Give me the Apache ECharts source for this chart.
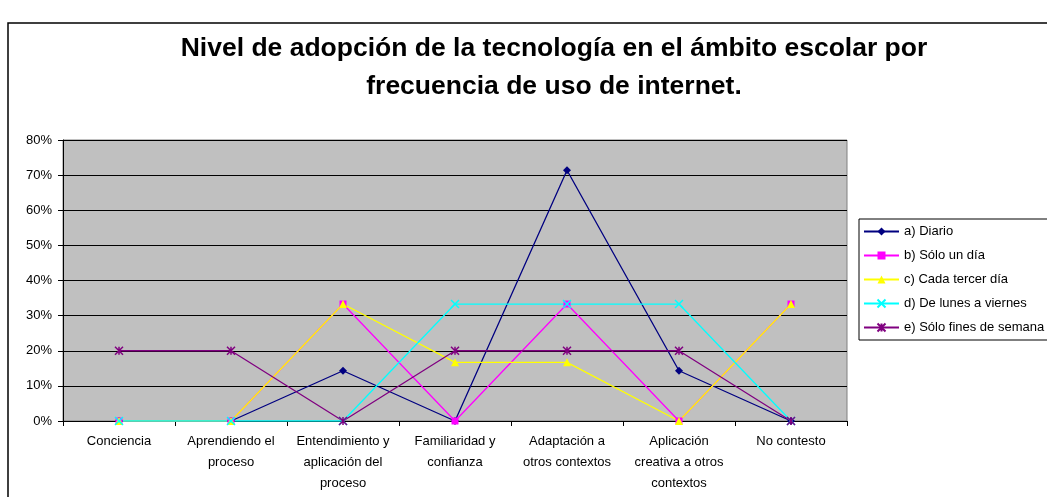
<!DOCTYPE html>
<html>
<head>
<meta charset="utf-8">
<script src="https://cdn.jsdelivr.net/npm/echarts@6/dist/echarts.min.js"></script>
<style>
  html, body { margin: 0; padding: 0; background: #fff; }
  #chart { width: 1047px; height: 497px; }
</style>
</head>
<body>
<div id="chart"></div>
<script>
// categorías del eje X
var categorias = ['Conciencia', 'Aprendiendo el\nproceso', 'Entendimiento y\naplicación del\nproceso',
    'Familiaridad y\nconfianza', 'Adaptación a\notros contextos', 'Aplicación\ncreativa a otros\ncontextos', 'No contesto'];

// valores (fracción) de cada serie
var diario = [0, 0, 0.143, 0, 0.714, 0.143, 0];
var soloUnDia = [0, 0, 0.333, 0, 0.333, 0, 0.333];
var cadaTercerDia = [0, 0, 0.333, 0.167, 0.167, 0, 0.333];
var lunesViernes = [0, 0, 0, 0.333, 0.333, 0.333, 0];
var finesSemana = [0.2, 0.2, 0, 0.2, 0.2, 0.2, 0];

var nombres = ['a) Diario', 'b) Sólo un día', 'c) Cada tercer día', 'd) De lunes a viernes', 'e) Sólo fines de semana'];

var mychart = echarts.init(document.getElementById('chart'));

var cruz = 'path://M0,0 L10,10 M10,0 L0,10';
var asterisco = 'path://M0,0 L10,10 M10,0 L0,10 M5,0 L5,10';

function serie(nombre, datos, color, simbolo, tam, hueco) {
    return {
        name: nombre,
        type: 'line',
        data: datos,
        symbol: simbolo,
        symbolSize: tam,
        showAllSymbol: true,
        color: color,
        lineStyle: { color: color, width: 1.3 },
        itemStyle: hueco
            ? { color: 'rgba(0,0,0,0)', borderColor: color, borderWidth: 1.5 }
            : { color: color, borderColor: color, borderWidth: 0 },
        emphasis: { disabled: true },
        animation: false
    };
}

var option = {
    textStyle: { fontFamily: 'Arial, "Liberation Sans", sans-serif' },
    graphic: [{
        type: 'rect',
        shape: { x: 8, y: 23, width: 1060, height: 490 },
        style: { fill: 'none', stroke: '#000', lineWidth: 1.5 },
        z: -10
    }],
    title: {
        text: 'Nivel de adopción de la tecnología en el ámbito escolar por\nfrecuencia de uso de internet.',
        left: 549,
        top: 25,
        textAlign: 'center',
        textStyle: { fontSize: 26.5, fontWeight: 'bold', color: '#000', lineHeight: 38 }
    },
    legend: {
        data: nombres,
        orient: 'vertical',
        left: 859,
        top: 219,
        padding: [6, 40, 6, 4],
        itemGap: 11,
        itemWidth: 35,
        itemHeight: 10,
        backgroundColor: '#fff',
        borderColor: '#000',
        borderWidth: 1,
        textStyle: { fontSize: 13, color: '#000' }
    },
    grid: {
        left: 63, right: 200, top: 140, bottom: 76,
        show: true,
        backgroundColor: '#C0C0C0',
        borderColor: '#808080',
        borderWidth: 1
    },
    xAxis: {
        type: 'category',
        data: categorias,
        boundaryGap: true,
        axisLine: { lineStyle: { color: '#000', width: 1 } },
        axisTick: { show: true, length: 5, lineStyle: { color: '#000' } },
        axisLabel: { color: '#000', fontSize: 13, lineHeight: 21, margin: 10, interval: 0 }
    },
    yAxis: {
        type: 'value',
        min: 0,
        max: 0.8,
        interval: 0.1,
        axisLine: { show: true, lineStyle: { color: '#000' } },
        axisTick: { show: true, length: 5, lineStyle: { color: '#000' } },
        splitLine: { lineStyle: { color: '#000', width: 1 } },
        axisLabel: {
            color: '#000', fontSize: 13, margin: 11,
            formatter: function (v) { return Math.round(v * 100) + '%'; }
        }
    },
    series: [
        serie(nombres[0], diario, '#000080', 'diamond', 8, false),
        serie(nombres[1], soloUnDia, '#FF00FF', 'rect', 7, false),
        serie(nombres[2], cadaTercerDia, '#FFFF00', 'triangle', 8, false),
        serie(nombres[3], lunesViernes, '#00FFFF', cruz, 8, true),
        serie(nombres[4], finesSemana, '#800080', asterisco, 8, true)
    ]
};

mychart.setOption(option);
</script>
</body>
</html>
